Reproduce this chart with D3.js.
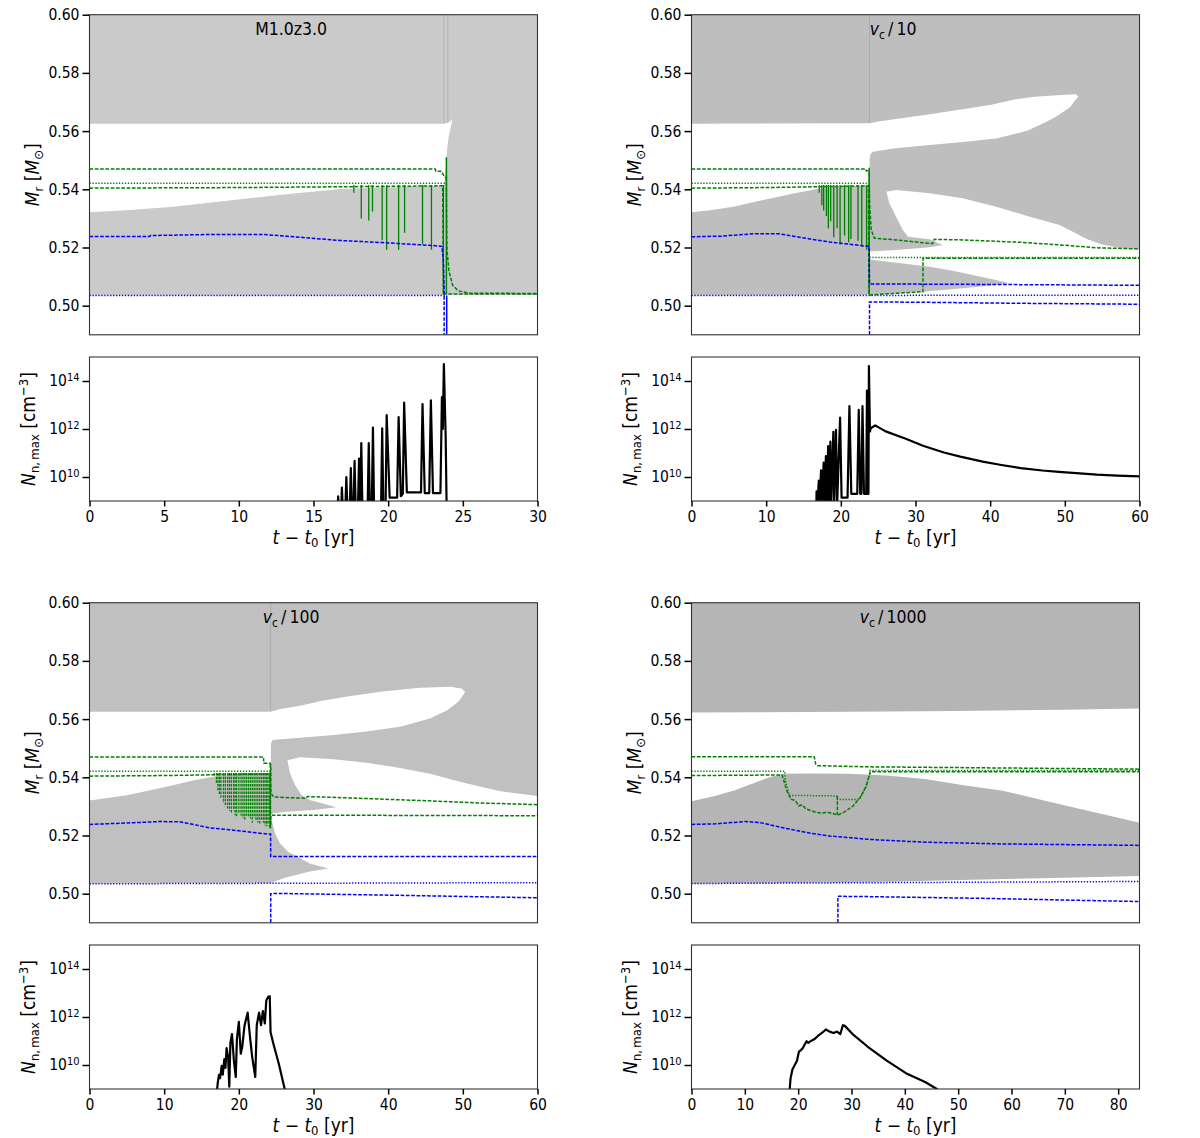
<!DOCTYPE html>
<html lang="en">
<head>
<meta charset="UTF-8">
<title>Kippenhahn diagrams and neutron densities</title>
<script src="https://d3js.org/d3.v7.min.js"></script>
<style>
  body { margin: 0; background: #fff; }
  svg { display: block; font-family: 'DejaVu Sans Condensed', 'DejaVu Sans', sans-serif; }
  .tick text { font-family: 'DejaVu Sans Condensed', 'DejaVu Sans', sans-serif; font-size: 15.5px; fill: #000; }
  .tick line { stroke: #000; stroke-width: 1.5; }
</style>
</head>
<body>
<svg id="chart" width="1200" height="1138"></svg>
<script>
// ---- data: [t - t0 (yr), M_r (Msun)] or [t - t0 (yr), log10 N_n,max] ----

// panel 1 : M1.0z3.0
const p1WhiteMid = [[0,0.5625],[23.7,0.5625],[23.95,0.5628],[24.15,0.5634],[24.3,0.5641],[24.2,0.5615],[24.05,0.558],[23.95,0.554],[23.88,0.549],[23.82,0.545],[23.75,0.5415],[23.4,0.5412],[19.6,0.5406],[16.8,0.5401],[13.5,0.5385],[10.1,0.5366],[5.6,0.534],[2.5,0.5328],[0,0.5321]];
const p1WhiteLow = [[0,0.49],[0,0.5035],[23.9,0.5036],[30,0.5038],[30,0.49]];
const p1Flash = [23.73, 24.0];
const p1GreenTop = [[0,0.547],[23.15,0.547],[23.2,0.5462],[23.55,0.5462],[23.8,0.5441],[23.9,0.5441]];
const p1GreenDot = [[0,0.5421],[23.9,0.5421]];
const p1GreenLow = [[0,0.5404],[10,0.5406],[20,0.541],[23.65,0.5412],[23.7,0.504],[30,0.504]];
const p1GreenPost = [[23.9,0.5441],[23.92,0.525],[23.94,0.5192],[24.07,0.5119],[24.32,0.507],[24.7,0.5051],[25.47,0.5043],[30,0.5042]];
const p1GreenSolid = [[23.9,0.551],[23.9,0.504]];
const p1Spikes = [[17.7,0.5388],[18.2,0.530],[18.7,0.5293],[18.95,0.5324],[19.6,0.5225],[19.9,0.5192],[20.7,0.5192],[21.1,0.5251],[22.3,0.5211],[22.9,0.5192],[23.7,0.504]];
const p1BlueDash = [[0,0.5238],[4,0.5238],[4.1,0.5241],[8.5,0.5245],[11.6,0.5245],[13.4,0.5238],[16.8,0.5224],[19.6,0.5217],[22.9,0.5207],[23.6,0.5204],[23.7,0.515],[23.75,0.505],[23.75,0.49]];
const p1BlueDot = [[0,0.5035],[23.8,0.5035]];
const p1BlueSolid = [[23.92,0.5035],[23.92,0.49]];
const p1LogN = [[16.6,8.5],[16.65,9.19],[16.72,8.5],[16.85,8.5],[16.9,9.56],[16.98,8.5],[17.12,8.5],[17.2,10.0],[17.28,8.5],[17.42,8.5],[17.5,10.37],[17.58,8.5],[17.68,8.5],[17.75,10.67],[17.83,8.5],[17.97,8.5],[18.05,10.77],[18.1,8.5],[18.14,8.5],[18.2,11.41],[18.28,8.5],[18.62,8.5],[18.7,11.41],[18.78,8.5],[18.9,8.5],[18.98,12.06],[19.06,8.5],[19.52,8.5],[19.6,12.03],[19.68,8.5],[19.82,8.5],[19.9,12.58],[20.1,9.14],[20.6,9.14],[20.7,12.5],[20.85,9.2],[20.98,9.3],[21.07,13.1],[21.25,9.36],[22.2,9.36],[22.3,13.04],[22.45,9.33],[22.75,9.33],[22.86,13.19],[23.0,9.33],[23.5,9.33],[23.6,13.33],[23.66,12.0],[23.73,14.7],[23.85,11.7],[23.92,8.5]];

// panel 2 : v_c / 10
const p2WhiteMid = [[0,0.5625],[23.84,0.5627],[25,0.5633],[27.4,0.5642],[31.9,0.5658],[36.3,0.5675],[40,0.569],[43.1,0.5708],[46,0.5718],[50,0.5725],[51.5,0.5727],[51.8,0.5718],[51.2,0.57],[50.7,0.5682],[48.7,0.5648],[47,0.5625],[45.1,0.5603],[43,0.5588],[40.8,0.5575],[36,0.5562],[31.9,0.5552],[27,0.554],[24.3,0.5529],[24.0,0.5522],[23.86,0.551],[23.84,0.5412],[20,0.541],[16.8,0.5401],[13.5,0.5385],[10.1,0.5366],[5.6,0.534],[2.5,0.5328],[0,0.5321]];
const p2WhiteLow = [[0,0.49],[0,0.5035],[23.84,0.5037],[31,0.5048],[36.3,0.506],[40.5,0.507],[42.6,0.5077],[40.5,0.509],[38.6,0.51],[35,0.512],[31.9,0.5134],[27.5,0.5148],[23.9,0.5159],[23.9,0.5186],[27.4,0.5191],[31.9,0.5201],[33.66,0.5209],[32.8,0.5218],[31.9,0.5228],[29,0.5237],[28.3,0.526],[27.4,0.5306],[26.5,0.5352],[26.1,0.5392],[27.4,0.5398],[31.9,0.5386],[36.3,0.5369],[40.8,0.534],[45.3,0.5306],[49.3,0.5277],[51,0.5255],[53,0.5228],[55,0.521],[57.5,0.5198],[60,0.5193],[60,0.49]];
const p2Flash = [23.84];
const p2GreenTop = [[0,0.547],[23.35,0.547],[23.4,0.5464],[23.75,0.5464],[23.8,0.5455]];
const p2GreenDot = [[0,0.5421],[23.8,0.5421]];
const p2GreenLow = [[0,0.5404],[10,0.5406],[20,0.541],[23.7,0.5412],[23.76,0.5039],[23.84,0.5037],[31,0.5048],[31,0.5163],[60,0.5163]];
const p2GreenPost = [[23.8,0.5455],[23.85,0.535],[24.07,0.526],[24.5,0.5232],[27.4,0.5226],[31.9,0.5214],[32.3,0.5214],[32.5,0.5228],[36.3,0.5226],[44,0.5218],[49.3,0.5209],[54.3,0.5199],[60,0.5195]];
const p2GreenDot2 = [[23.84,0.5166],[60,0.5166]];
const p2GreenSolid = [[23.8,0.5474],[23.8,0.5039]];
const p2Spikes = [[17.1,0.5388],[17.46,0.5345],[17.7,0.5327],[18.07,0.5308],[18.33,0.5266],[18.64,0.529],[19.05,0.5235],[19.5,0.5266],[19.9,0.521],[20.5,0.5241],[21.05,0.5217],[21.35,0.5229],[22.3,0.5223],[22.8,0.5204],[23.45,0.5192]];
const p2BlueDash = [[0,0.5237],[4,0.5239],[8.2,0.5247],[11.8,0.5247],[15.9,0.5229],[18.5,0.5219],[23.6,0.5204],[23.8,0.5204],[23.84,0.5075],[40,0.5073],[60,0.507]];
const p2BlueDash2 = [[23.84,0.49],[23.84,0.5013],[30,0.5012],[45,0.5008],[60,0.5005]];
const p2BlueDot = [[0,0.5035],[60,0.5036]];
const p2LogN = [[16.7,8.5],[16.75,9.4],[16.85,8.8],[17.05,9.85],[17.15,8.8],[17.35,10.28],[17.45,8.8],[17.7,10.6],[17.8,8.8],[18.0,10.87],[18.1,8.8],[18.3,11.29],[18.4,8.8],[18.6,11.47],[18.7,8.8],[19.0,11.88],[19.1,8.8],[19.35,11.96],[19.5,8.8],[19.9,12.47],[20.1,9.14],[20.9,9.14],[21.15,12.95],[21.4,9.3],[22.2,9.3],[22.4,12.8],[22.6,9.3],[22.75,9.3],[22.9,12.95],[23.1,9.3],[23.4,9.3],[23.5,13.6],[23.6,9.3],[23.7,9.3],[23.76,14.62],[23.9,11.9],[24.0,12.03],[24.6,12.15],[26,11.9],[28.7,11.59],[31,11.3],[33.8,11.02],[36,10.85],[39,10.64],[41.5,10.5],[44.1,10.37],[47,10.27],[49.2,10.21],[52,10.15],[54.3,10.1],[57,10.06],[60,10.03]];

// panel 3 : v_c / 100
const p3WhiteMid = [[0,0.5625],[24.27,0.5625],[25.4,0.5634],[28.2,0.5646],[31,0.5662],[34.1,0.5676],[39.2,0.5695],[44.3,0.5708],[48.4,0.5711],[49.9,0.5704],[50.3,0.5692],[49.4,0.566],[47.9,0.563],[45.6,0.5602],[41.6,0.5574],[37.1,0.5557],[32.7,0.5545],[28.2,0.5536],[24.5,0.5528],[24.3,0.5515],[24.27,0.5415],[20,0.5412],[16.5,0.5402],[14,0.539],[10,0.5366],[5,0.5338],[0,0.532]];
const p3WhiteLow = [[0,0.49],[0,0.5035],[24.3,0.5037],[25.95,0.5053],[29.5,0.5076],[32,0.5087],[29.5,0.5104],[28.2,0.5122],[26.6,0.5144],[25.5,0.5173],[24.84,0.5208],[24.4,0.5253],[24.3,0.527],[24.4,0.5276],[26.4,0.5282],[30,0.5288],[33.1,0.5297],[29.5,0.5322],[28.4,0.5339],[27.5,0.5374],[26.85,0.5414],[26.5,0.5459],[28.2,0.5469],[32.7,0.5462],[37.1,0.545],[41.6,0.5432],[45.6,0.5412],[50,0.5382],[55,0.5352],[60,0.5336],[60,0.49]];
const p3Flash = [24.27];
const p3GreenTop = [[0,0.547],[23.3,0.547],[23.35,0.5448],[24.2,0.5448],[24.28,0.544],[24.3,0.5345],[24.7,0.5332],[29.0,0.5328],[29.2,0.5334],[36,0.5328],[45.6,0.5319],[52,0.5312],[60,0.5306]];
const p3GreenDot = [[0,0.5421],[24.2,0.5421]];
const p3GreenLow = [[0,0.5404],[10,0.5406],[20,0.541],[24.2,0.5412],[24.25,0.5225],[24.3,0.527],[60,0.5268]];
const p3GreenSolid = [[24.22,0.5445],[24.22,0.5225]];
const p3Spikes = [[16.7,0.5403],[17.0,0.538],[17.2,0.5355],[17.4,0.534],[17.6,0.533],[17.95,0.5312],[18.2,0.53],[18.5,0.5293],[18.75,0.5285],[19.0,0.5275],[19.3,0.5287],[19.5,0.527],[19.7,0.5263],[20.0,0.5275],[20.3,0.5269],[20.55,0.526],[20.8,0.5254],[21.05,0.5268],[21.3,0.5263],[21.55,0.5258],[21.8,0.5244],[22.05,0.5262],[22.3,0.5251],[22.55,0.5245],[22.8,0.5238],[23.05,0.525],[23.3,0.5244],[23.5,0.5235],[23.7,0.5232],[23.9,0.524],[24.1,0.5226]];
const p3BlueDash = [[0,0.5238],[5.9,0.5244],[9.5,0.5248],[12.1,0.5247],[16.2,0.5226],[18.7,0.522],[23.8,0.5205],[24.25,0.5205],[24.27,0.5128],[60,0.5128]];
const p3BlueDash2 = [[24.27,0.49],[24.27,0.5],[25,0.5001],[40,0.4995],[60,0.4986]];
const p3BlueDot = [[0,0.5034],[60,0.5038]];
const p3LogN = [[17.03,8.8],[17.19,9.29],[17.34,9.59],[17.49,9.45],[17.7,9.96],[17.85,9.6],[18.06,10.25],[18.21,9.88],[18.36,10.7],[18.57,10.33],[18.72,9.1],[18.87,10.92],[19.08,11.29],[19.34,10.18],[19.59,9.5],[19.74,11.07],[20.0,11.8],[20.26,10.47],[20.46,10.77],[20.77,11.66],[21.18,12.18],[21.53,11.07],[21.79,10.33],[22.2,9.5],[22.4,11.66],[22.71,12.18],[22.97,11.66],[23.22,12.25],[23.48,11.73],[23.68,12.7],[23.94,12.84],[24.14,12.87],[24.25,11.36],[24.6,10.92],[25.37,10.03],[26.14,9.0],[26.3,8.8]];

// panel 4 : v_c / 1000
const p4WhiteMid = [[0,0.5623],[30,0.5625],[50,0.5628],[70,0.5632],[84,0.5636],[84,0.5244],[79.6,0.5263],[72.5,0.5293],[65.3,0.5324],[58.1,0.5355],[51,0.5373],[43.8,0.5394],[36.6,0.5406],[29.5,0.5412],[22.3,0.5413],[17.3,0.5412],[15.1,0.5403],[11.5,0.5379],[8,0.5355],[4.4,0.5336],[0,0.5318]];
const p4WhiteLow = [[0,0.49],[0,0.5034],[33,0.5039],[54.6,0.5049],[70,0.5055],[84,0.5061],[84,0.49]];
const p4Flash = [];
const p4GreenTop = [[0,0.5471],[23,0.5471],[23.3,0.5445],[23.6,0.544],[33,0.5436],[84,0.5428]];
const p4GreenLow = [[0,0.5406],[17.0,0.5408],[17.3,0.539],[17.6,0.537],[18.0,0.5348],[18.7,0.5324],[19.5,0.532],[20.1,0.5302],[20.8,0.5305],[21.4,0.5292],[22.3,0.5286],[23.3,0.528],[24.4,0.5277],[25.5,0.528],[26.6,0.5275],[27.5,0.5271],[28.7,0.5281],[30.2,0.53],[31.6,0.533],[32.7,0.5367],[33.4,0.541],[33.5,0.5419],[84,0.5419]];
const p4GreenDot = [[0,0.5421],[17.5,0.5421],[17.6,0.539],[18.3,0.5338],[27.2,0.5336],[27.4,0.5324],[31.5,0.5324],[32.7,0.5367],[33.4,0.541],[33.5,0.5423],[84,0.5423]];
const p4GreenSolid = [[27.35,0.5336],[27.35,0.5271]];
const p4BlueDash = [[0,0.5238],[4.4,0.524],[10.1,0.5248],[13,0.5244],[17.3,0.5226],[22.3,0.5208],[25.9,0.5198],[29.5,0.5193],[33,0.5187],[40.2,0.518],[43.8,0.5177],[51,0.5174],[58.1,0.5171],[68.9,0.5169],[84,0.5166]];
const p4BlueDash2 = [[27.45,0.49],[27.45,0.4991],[33,0.499],[54.6,0.4984],[84,0.4973]];
const p4BlueDot = [[0,0.5035],[84,0.5042]];
const p4LogN = [[18.35,8.8],[18.57,9.44],[18.92,9.81],[19.43,10.03],[19.78,10.18],[20.14,10.55],[20.5,10.62],[20.86,10.7],[21.2,10.84],[21.58,10.99],[21.9,10.92],[22.3,10.99],[23.0,11.07],[23.7,11.21],[24.4,11.33],[25.2,11.48],[25.9,11.39],[26.6,11.33],[27.3,11.39],[27.9,11.29],[28.4,11.66],[28.75,11.63],[30.2,11.29],[33.0,10.77],[36.6,10.18],[40.2,9.66],[43.8,9.29],[46.0,9.0],[46.5,8.9]];

const massTicks = [0.50, 0.52, 0.54, 0.56, 0.58, 0.60];
const densTicks = [10, 12, 14];
const spikeTop = 0.5415;

// ---- layout ----
const colX = [89.5, 691.5];
const rowY = [0, 588];
const plotW = 448;
const topY = 14.7, topH = 320.1;
const botY = 357, botH = 144;

const DASH = "3.7,1.6", DOT = "1.3,1.65";
const GREEN = "#008000", BLUE = "#0000ff";
const LW = 1.5;

const panels = [
  { col: 0, row: 0, tMax: 30, xticks: d3.range(0, 31, 5), gray: "#cacaca", title: ["M1.0z3.0"],
    whites: [p1WhiteMid, p1WhiteLow], flash: p1Flash, spikes: p1Spikes, spikeDash: null, logN: p1LogN,
    lines: [[p1GreenTop, GREEN, DASH], [p1GreenDot, GREEN, DOT], [p1GreenLow, GREEN, DASH], [p1GreenPost, GREEN, DASH],
            [p1GreenSolid, GREEN, null], [p1BlueDash, BLUE, DASH], [p1BlueDot, BLUE, DOT], [p1BlueSolid, BLUE, null]] },
  { col: 1, row: 0, tMax: 60, xticks: d3.range(0, 61, 10), gray: "#bebebe", title: ["v", "c", "10"],
    whites: [p2WhiteMid, p2WhiteLow], flash: p2Flash, spikes: p2Spikes, spikeDash: null, logN: p2LogN,
    lines: [[p2GreenTop, GREEN, DASH], [p2GreenDot, GREEN, DOT], [p2GreenLow, GREEN, DASH], [p2GreenPost, GREEN, DASH],
            [p2GreenDot2, GREEN, DOT], [p2GreenSolid, GREEN, null], [p2BlueDash, BLUE, DASH], [p2BlueDash2, BLUE, DASH], [p2BlueDot, BLUE, DOT]] },
  { col: 0, row: 1, tMax: 60, xticks: d3.range(0, 61, 10), gray: "#c0c0c0", title: ["v", "c", "100"],
    whites: [p3WhiteMid, p3WhiteLow], flash: p3Flash, spikes: p3Spikes, spikeDash: "2.5,1.2", logN: p3LogN,
    lines: [[p3GreenTop, GREEN, DASH], [p3GreenDot, GREEN, DOT], [p3GreenLow, GREEN, DASH], [p3GreenSolid, GREEN, DASH],
            [p3BlueDash, BLUE, DASH], [p3BlueDash2, BLUE, DASH], [p3BlueDot, BLUE, DOT]] },
  { col: 1, row: 1, tMax: 84, xticks: d3.range(0, 81, 10), gray: "#b5b5b5", title: ["v", "c", "1000"],
    whites: [p4WhiteMid, p4WhiteLow], flash: p4Flash, spikes: [], spikeDash: null, logN: p4LogN,
    lines: [[p4GreenTop, GREEN, DASH], [p4GreenDot, GREEN, DOT], [p4GreenLow, GREEN, DASH], [p4GreenSolid, GREEN, DASH],
            [p4BlueDash, BLUE, DASH], [p4BlueDash2, BLUE, DASH], [p4BlueDot, BLUE, DOT]] }
];

const svg = d3.select("#chart");
const defs = svg.append("defs");

panels.forEach((p, i) => {
  const x0 = colX[p.col], oy = rowY[p.row];
  const x = d3.scaleLinear().domain([0, p.tMax]).range([x0, x0 + plotW]);
  const yM = d3.scaleLinear().domain([0.49, 0.60]).range([oy + topY + topH, oy + topY]);
  const yN = d3.scaleLog().domain([1e9, 1e15]).range([oy + botY + botH, oy + botY]);
  const lineM = d3.line().x(d => x(d[0])).y(d => yM(d[1]));
  const lineN = d3.line().x(d => x(d[0])).y(d => yN(Math.pow(10, d[1])));

  defs.append("clipPath").attr("id", "clipT" + i).append("rect")
    .attr("x", x0).attr("y", oy + topY).attr("width", plotW).attr("height", topH);
  defs.append("clipPath").attr("id", "clipB" + i).append("rect")
    .attr("x", x0).attr("y", oy + botY).attr("width", plotW).attr("height", botH);

  // Kippenhahn part: grey convective zones, white radiative zones
  const gT = svg.append("g").attr("clip-path", `url(#clipT${i})`);
  gT.append("rect").attr("x", x0).attr("y", oy + topY).attr("width", plotW).attr("height", topH)
    .attr("fill", p.gray);
  p.flash.forEach(t => {
    gT.append("line").attr("x1", x(t)).attr("x2", x(t)).attr("y1", yM(0.60)).attr("y2", yM(0.5626))
      .attr("stroke", "#999").attr("stroke-opacity", 0.45).attr("stroke-width", 1);
  });
  p.whites.forEach(w => {
    gT.append("path").attr("d", lineM(w) + "Z").attr("fill", "#fff");
  });
  p.spikes.forEach(s => {
    gT.append("path").attr("d", lineM([[s[0], spikeTop], [s[0], s[1]]]))
      .attr("fill", "none").attr("stroke", GREEN).attr("stroke-width", 1.3)
      .attr("stroke-dasharray", p.spikeDash);
  });
  p.lines.forEach(([data, color, dash]) => {
    gT.append("path").attr("d", lineM(data)).attr("fill", "none")
      .attr("stroke", color).attr("stroke-width", LW).attr("stroke-dasharray", dash);
  });

  svg.append("rect").attr("x", x0).attr("y", oy + topY).attr("width", plotW).attr("height", topH)
    .attr("fill", "none").attr("stroke", "#333").attr("stroke-width", 1.1);

  svg.append("g").attr("transform", `translate(${x0},0)`)
    .call(d3.axisLeft(yM).tickValues(massTicks).tickFormat(d3.format(".2f")).tickSize(7).tickPadding(3).tickSizeOuter(0))
    .call(g => g.select(".domain").remove());

  // title
  const tt = svg.append("text").attr("x", x0 + plotW * 0.45).attr("y", oy + topY + 20.5)
    .attr("text-anchor", "middle").attr("font-size", 17.5);
  if (p.title.length === 1) {
    tt.text(p.title[0]);
  } else {
    tt.append("tspan").attr("font-style", "italic").text(p.title[0]);
    tt.append("tspan").attr("font-size", 12).attr("dy", 4).text(p.title[1]);
    tt.append("tspan").attr("dy", -4).text("\u2009/\u2009" + p.title[2]);
  }

  // y label top
  const yl = svg.append("text").attr("transform", `translate(${x0 - 51},${oy + topY + topH / 2}) rotate(-90)`)
    .attr("text-anchor", "middle").attr("font-size", 19);
  yl.append("tspan").attr("font-style", "italic").text("M");
  yl.append("tspan").attr("font-size", 13).attr("dy", 4).text("r");
  yl.append("tspan").attr("dy", -4).text(" [");
  yl.append("tspan").attr("font-style", "italic").text("M");
  yl.append("tspan").attr("font-size", 13).attr("dy", 4).text("\u2299");
  yl.append("tspan").attr("dy", -4).text("]");

  // neutron density part
  const gB = svg.append("g").attr("clip-path", `url(#clipB${i})`);
  gB.append("path").attr("d", lineN(p.logN)).attr("fill", "none")
    .attr("stroke", "#000").attr("stroke-width", 2.2).attr("stroke-linejoin", "round");

  svg.append("rect").attr("x", x0).attr("y", oy + botY).attr("width", plotW).attr("height", botH)
    .attr("fill", "none").attr("stroke", "#333").attr("stroke-width", 1.1);

  svg.append("g").attr("transform", `translate(${x0},0)`)
    .call(d3.axisLeft(yN).tickValues(densTicks.map(e => Math.pow(10, e))).tickFormat(() => "").tickSize(7).tickPadding(3).tickSizeOuter(0))
    .call(g => g.select(".domain").remove())
    .call(g => g.selectAll(".tick text").each(function (d) {
      const t = d3.select(this);
      t.text("10");
      t.append("tspan").attr("dy", "-0.5em").attr("font-size", 11).text(Math.round(Math.log10(d)));
    }));

  svg.append("g").attr("transform", `translate(0,${oy + botY + botH})`)
    .call(d3.axisBottom(x).tickValues(p.xticks).tickSize(5.5).tickPadding(4.5).tickSizeOuter(0))
    .call(g => g.select(".domain").remove());

  const nl = svg.append("text").attr("transform", `translate(${x0 - 55},${oy + botY + botH / 2}) rotate(-90)`)
    .attr("text-anchor", "middle").attr("font-size", 19);
  nl.append("tspan").attr("font-style", "italic").text("N");
  nl.append("tspan").attr("font-size", 13).attr("dy", 4).text("n,\u2009max");
  nl.append("tspan").attr("dy", -4).text(" [cm");
  nl.append("tspan").attr("font-size", 13).attr("dy", -7).text("\u22123");
  nl.append("tspan").attr("dy", 7).text("]");

  const xl = svg.append("text").attr("x", x0 + plotW / 2).attr("y", oy + botY + botH + 42.5)
    .attr("text-anchor", "middle").attr("font-size", 19);
  xl.append("tspan").attr("font-style", "italic").text("t");
  xl.append("tspan").text(" \u2212 ");
  xl.append("tspan").attr("font-style", "italic").text("t");
  xl.append("tspan").attr("font-size", 13).attr("dy", 3).text("0");
  xl.append("tspan").attr("dy", -3).text(" [yr]");
});
</script>
</body>
</html>
